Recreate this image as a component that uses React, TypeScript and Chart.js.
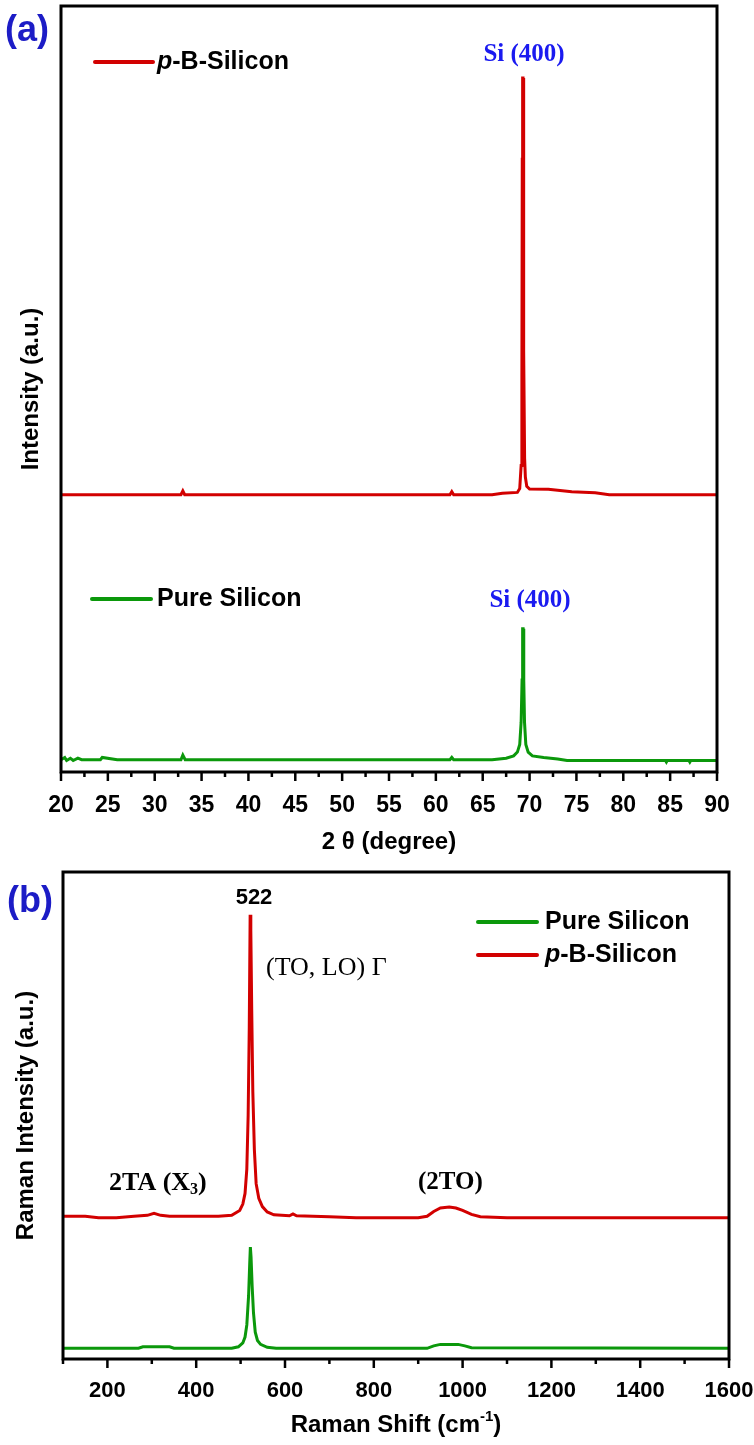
import React, { useEffect, useRef } from 'react';
import { Chart, registerables } from 'chart.js';
Chart.register(...registerables);

const SANS = "'Liberation Sans', Arial, sans-serif";
const NARROW = "'Liberation Sans Narrow', 'Arial Narrow', 'Liberation Sans', Arial, sans-serif";
const SERIF = "'Liberation Serif', 'Times New Roman', serif";
const RED = '#d20000';
const GREEN = '#0b980b';
const BLUE_LABEL = '#1c1cc6';
const BLUE_PEAK = '#1a1af0';

// ---------- Panel (a): XRD ----------
const xrdTickLabels = ['20', '25', '30', '35', '40', '45', '50', '55', '60', '65', '70', '75', '80', '85', '90'];

const xrdBoronX = [20, 25, 30, 32.8, 33.0, 33.2, 40, 50, 60, 61.5, 61.7, 61.9, 66, 67.1, 68.7, 68.95, 69.1, 69.18, 69.22, 69.26, 69.3, 69.34, 69.4, 69.47, 69.55, 69.7, 70, 72, 74.5, 77, 78.5, 85, 90];
const xrdBoronY = [36.2, 36.2, 36.2, 36.2, 36.7, 36.2, 36.2, 36.2, 36.2, 36.2, 36.6, 36.2, 36.2, 36.4, 36.5, 37.0, 40, 52, 80, 90.6, 90.6, 82, 55, 41, 38.5, 37.3, 36.95, 36.9, 36.6, 36.45, 36.2, 36.2, 36.2];

const xrdPureX = [20, 20.4, 20.6, 21.0, 21.3, 21.8, 22.2, 24.2, 24.4, 26, 30, 32.8, 33.0, 33.25, 40, 50, 61.5, 61.7, 61.9, 66, 67.5, 68.3, 68.7, 68.95, 69.1, 69.2, 69.26, 69.31, 69.38, 69.46, 69.6, 69.85, 70.3, 71.5, 73, 74, 80, 84.5, 84.6, 84.7, 87, 87.1, 87.2, 90];
const xrdPureY = [1.6, 1.9, 1.5, 1.8, 1.5, 1.8, 1.6, 1.6, 1.9, 1.6, 1.6, 1.6, 2.2, 1.6, 1.6, 1.6, 1.6, 1.9, 1.6, 1.6, 1.8, 2.1, 2.6, 3.6, 6.5, 12, 18.7, 18.7, 12, 6.5, 3.6, 2.6, 2.1, 1.9, 1.7, 1.5, 1.5, 1.5, 1.3, 1.5, 1.5, 1.3, 1.5, 1.5];

// ---------- Panel (b): Raman ----------
const ramanTickLabels = ['200', '400', '600', '800', '1000', '1200', '1400', '1600'];

const ramanBoronX = [100, 150, 180, 220, 260, 290, 305, 320, 340, 400, 450, 480, 498, 505, 510, 514, 517, 519.5, 521.5, 523, 525, 527.5, 531, 535, 541, 549, 560, 575, 610, 618, 626, 700, 760, 850, 900, 920, 935, 950, 970, 985, 1000, 1020, 1040, 1100, 1600];
const ramanBoronY = [29.3, 29.3, 29.0, 29.0, 29.3, 29.5, 29.9, 29.5, 29.3, 29.3, 29.3, 29.5, 30.5, 31.8, 34, 39, 50, 68, 91.2, 88, 72, 55, 43, 36, 33, 31.3, 30.2, 29.6, 29.4, 29.8, 29.4, 29.2, 29.0, 29.0, 29.0, 29.3, 30.3, 31.0, 31.2, 31.0, 30.5, 29.7, 29.2, 29.0, 29.0];

const ramanPureX = [100, 270, 280, 340, 350, 480, 495, 505, 510, 514, 518, 520.5, 522, 523.5, 526, 529, 533, 538, 545, 560, 580, 920, 935, 950, 990, 1005, 1020, 1600];
const ramanPureY = [2.2, 2.2, 2.5, 2.5, 2.2, 2.2, 2.5, 3.3, 4.5, 7, 13, 19.5, 23, 21, 15, 9.5, 5.5, 3.8, 3.0, 2.4, 2.2, 2.2, 2.7, 3.0, 3.0, 2.7, 2.3, 2.2];

type Seg = { t: string; font: string; dy?: number };

const bold = (size: number, fam = SANS) => `bold ${size}px ${fam}`;

function drawSegs(ctx: CanvasRenderingContext2D, segs: Seg[], x: number, y: number, align: string, color: string) {
  ctx.textBaseline = 'middle';
  ctx.textAlign = 'left';
  let w = 0;
  segs.forEach((s) => { ctx.font = s.font; w += ctx.measureText(s.t).width; });
  let cx = align === 'center' ? x - w / 2 : x;
  ctx.fillStyle = color;
  segs.forEach((s) => {
    ctx.font = s.font;
    ctx.fillText(s.t, cx, y + (s.dy || 0));
    cx += ctx.measureText(s.t).width;
  });
}

const decorPlugin = {
  id: 'decor',
  afterDraw(chart: any, _args: any, opts: any) {
    const { ctx, chartArea: a } = chart;
    const xs = chart.scales.x;
    ctx.save();
    ctx.strokeStyle = '#000';
    ctx.lineWidth = 3;
    ctx.strokeRect(a.left, a.top, a.right - a.left, a.bottom - a.top);
    ctx.lineWidth = 2.5;
    xs.ticks.forEach((t: any) => {
      const px = xs.getPixelForValue(t.value);
      const len = t.label ? opts.majorLen : opts.minorLen;
      ctx.beginPath();
      ctx.moveTo(px, a.bottom);
      ctx.lineTo(px, a.bottom + len);
      ctx.stroke();
    });
    (opts.legend || []).forEach((l: any) => {
      ctx.strokeStyle = l.color;
      ctx.lineWidth = 4;
      ctx.lineCap = 'round';
      ctx.beginPath();
      ctx.moveTo(l.x1, l.y);
      ctx.lineTo(l.x2, l.y);
      ctx.stroke();
      drawSegs(ctx, l.segs, l.tx, l.y, 'left', '#000');
    });
    (opts.texts || []).forEach((t: any) => drawSegs(ctx, t.segs, t.x, t.y, t.align, t.color));
    ctx.restore();
  },
};

const pBSilicon: Seg[] = [
  { t: 'p', font: `italic bold 25px ${SANS}` },
  { t: '-B-Silicon', font: bold(25) },
];
const pureSilicon: Seg[] = [{ t: 'Pure Silicon', font: bold(25) }];

function makeConfig(p: any): any {
  return {
    type: 'line',
    data: {
      datasets: p.series.map((s: any) => ({
        data: s.xs.map((x: number, i: number) => ({ x, y: s.ys[i] })),
        borderColor: s.color,
        borderWidth: 3,
        pointRadius: 0,
        tension: 0,
        fill: false,
      })),
    },
    options: {
      responsive: false,
      animation: false,
      events: [],
      layout: { padding: p.padding },
      plugins: {
        legend: { display: false },
        tooltip: { enabled: false },
        decor: { majorLen: 9, minorLen: 5, legend: p.legend, texts: p.texts },
      },
      scales: {
        x: {
          type: 'linear',
          min: p.xMin,
          max: p.xMax,
          afterFit: (s: any) => {
            s.height = p.xHeight;
            s.paddingLeft = 0;
            s.paddingRight = 0;
          },
          grid: { display: false },
          border: { display: false },
          ticks: {
            stepSize: p.step,
            autoSkip: false,
            maxRotation: 0,
            padding: p.tickPad,
            color: '#000',
            font: { family: p.tickFamily, size: p.tickSize, weight: 'bold' },
            callback: (v: number) => (p.labels.includes(String(v)) ? String(v) : ''),
          },
          title: {
            display: !!p.xTitle,
            text: p.xTitle || '',
            color: '#000',
            font: { family: SANS, size: 24, weight: 'bold' },
            padding: { top: 0, bottom: p.xTitlePad },
          },
        },
        y: {
          min: 0,
          max: 100,
          afterFit: (s: any) => { s.width = p.yWidth; },
          grid: { display: false },
          border: { display: false },
          ticks: { display: false },
          title: {
            display: true,
            text: p.yTitle,
            color: '#000',
            font: { family: SANS, size: 24, weight: 'bold' },
            padding: { top: p.yTitlePad, bottom: 0 },
          },
        },
      },
    },
    plugins: [decorPlugin],
  };
}

export default function App() {
  const refA = useRef<HTMLCanvasElement>(null);
  const refB = useRef<HTMLCanvasElement>(null);

  useEffect(() => {
    const chartA = new Chart(refA.current as HTMLCanvasElement, makeConfig({
      series: [
        { xs: xrdBoronX, ys: xrdBoronY, color: RED },
        { xs: xrdPureX, ys: xrdPureY, color: GREEN },
      ],
      padding: { top: 6, right: 37, left: 0, bottom: 0 },
      xMin: 20, xMax: 90, step: 2.5, labels: xrdTickLabels,
      tickFamily: NARROW, tickSize: 23,
      xHeight: 88, tickPad: 12, xTitle: '2 θ (degree)', xTitlePad: 3,
      yWidth: 61, yTitle: 'Intensity (a.u.)', yTitlePad: 17,
      legend: [
        { x1: 95, x2: 153, tx: 157, y: 62, color: RED, segs: pBSilicon },
        { x1: 92, x2: 151, tx: 157, y: 599, color: GREEN, segs: pureSilicon },
      ],
      texts: [
        { segs: [{ t: '(a)', font: bold(36) }], x: 27, y: 31, align: 'center', color: BLUE_LABEL },
        { segs: [{ t: 'Si (400)', font: bold(25, SERIF) }], x: 524, y: 55, align: 'center', color: BLUE_PEAK },
        { segs: [{ t: 'Si (400)', font: bold(25, SERIF) }], x: 530, y: 601, align: 'center', color: BLUE_PEAK },
      ],
    }));

    const chartB = new Chart(refB.current as HTMLCanvasElement, makeConfig({
      series: [
        { xs: ramanBoronX, ys: ramanBoronY, color: RED },
        { xs: ramanPureX, ys: ramanPureY, color: GREEN },
      ],
      padding: { top: 12, right: 25, left: 0, bottom: 0 },
      xMin: 100, xMax: 1600, step: 100, labels: ramanTickLabels,
      tickFamily: SANS, tickSize: 22,
      xHeight: 86, tickPad: 11, xTitle: '', xTitlePad: 0,
      yWidth: 63, yTitle: 'Raman Intensity (a.u.)', yTitlePad: 12,
      legend: [
        { x1: 478, x2: 537, tx: 545, y: 62, color: GREEN, segs: pureSilicon },
        { x1: 478, x2: 537, tx: 545, y: 95, color: RED, segs: pBSilicon },
      ],
      texts: [
        { segs: [{ t: '(b)', font: bold(36) }], x: 30, y: 42, align: 'center', color: BLUE_LABEL },
        { segs: [{ t: '522', font: bold(22) }], x: 254, y: 38, align: 'center', color: '#000' },
        { segs: [{ t: '(TO, LO) Γ', font: `26px ${SERIF}` }], x: 266, y: 108, align: 'left', color: '#000' },
        {
          segs: [
            { t: '2TA (X', font: bold(26, SERIF) },
            { t: '3', font: bold(16, SERIF), dy: 7 },
            { t: ')', font: bold(26, SERIF) },
          ],
          x: 109, y: 323, align: 'left', color: '#000',
        },
        { segs: [{ t: '(2TO)', font: bold(25, SERIF) }], x: 418, y: 323, align: 'left', color: '#000' },
        {
          segs: [
            { t: 'Raman Shift (cm', font: bold(24) },
            { t: '-1', font: bold(15), dy: -8 },
            { t: ')', font: bold(24) },
          ],
          x: 396, y: 565, align: 'center', color: '#000',
        },
      ],
    }));

    return () => {
      chartA.destroy();
      chartB.destroy();
    };
  }, []);

  return (
    <div style={{ position: 'absolute', left: 0, top: 0, width: 754, height: 1445, background: '#fff' }}>
      <canvas ref={refA} width={754} height={860} style={{ position: 'absolute', left: 0, top: 0 }} />
      <canvas ref={refB} width={754} height={585} style={{ position: 'absolute', left: 0, top: 860 }} />
    </div>
  );
}
